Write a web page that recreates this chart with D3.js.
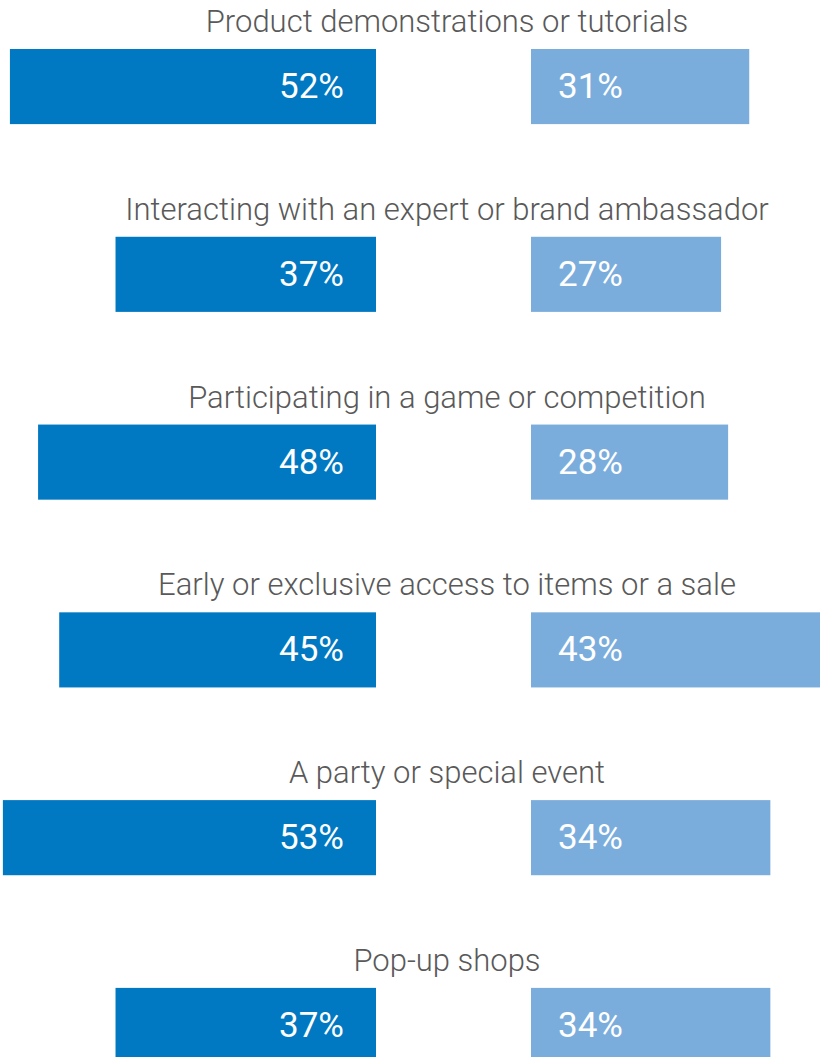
<!DOCTYPE html>
<html><head><meta charset="utf-8">
<script src="https://cdn.jsdelivr.net/npm/d3@7"></script>
<style>body{margin:0;background:#fff;overflow:hidden}svg{display:block}</style>
</head><body>
<svg id="c" width="820" height="1057"></svg>
<script>
const categories = [
  "Product demonstrations or tutorials",
  "Interacting with an expert or brand ambassador",
  "Participating in a game or competition",
  "Early or exclusive access to items or a sale",
  "A party or special event",
  "Pop-up shops"
];
const leftValues = [52, 37, 48, 45, 53, 37];
const rightValues = [31, 27, 28, 43, 34, 34];

const svg = d3.select("#c");
const leftOrigin = 376, rightOrigin = 531;
const x = d3.scaleLinear().domain([0, 100]).range([0, 704]);
const y = d3.scaleBand().domain(categories).range([49, 1063]).paddingInner(0.6).paddingOuter(0);

const rows = svg.selectAll("g.row").data(categories).join("g").attr("class", "row")
  .attr("transform", d => `translate(0,${y(d)})`);

rows.append("text")
  .attr("x", 447).attr("y", -17)
  .attr("text-anchor", "middle")
  .attr("font-family", "Roboto").attr("font-weight", 300)
  .attr("font-size", 31).attr("fill", "#595959")
  .text(d => d);

rows.append("rect")
  .attr("x", (d, i) => leftOrigin - x(leftValues[i]))
  .attr("width", (d, i) => x(leftValues[i]))
  .attr("y", 0).attr("height", y.bandwidth())
  .attr("fill", "#0079C2");

rows.append("rect")
  .attr("x", rightOrigin)
  .attr("width", (d, i) => x(rightValues[i]))
  .attr("y", 0).attr("height", y.bandwidth())
  .attr("fill", "#7BADDC");

rows.append("text")
  .attr("x", leftOrigin - 32).attr("y", 49)
  .attr("text-anchor", "end")
  .attr("font-family", "Roboto").attr("font-size", 35).attr("fill", "#fff")
  .text((d, i) => leftValues[i] + "%");

rows.append("text")
  .attr("x", rightOrigin + 27).attr("y", 49)
  .attr("text-anchor", "start")
  .attr("font-family", "Roboto").attr("font-size", 35).attr("fill", "#fff")
  .text((d, i) => rightValues[i] + "%");
</script>
</body></html>
